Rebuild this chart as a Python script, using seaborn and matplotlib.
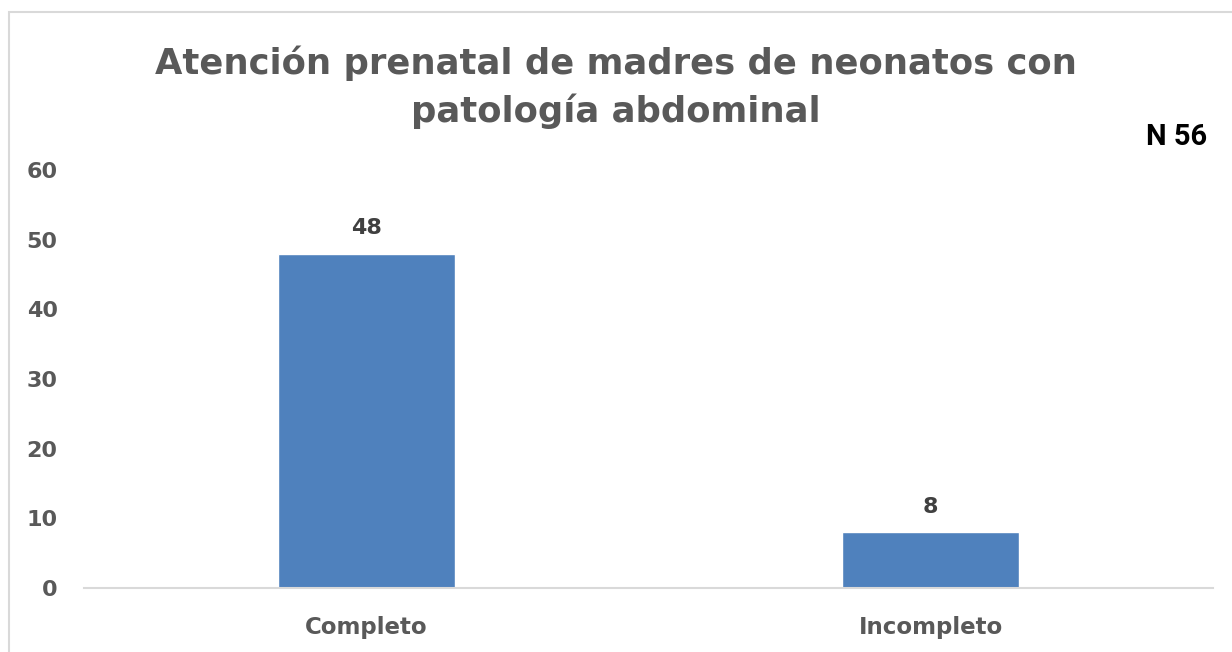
import seaborn as sns
import matplotlib.pyplot as plt
import pandas as pd
from matplotlib.patches import Rectangle

# data
categorias = ['Completo', 'Incompleto']
madres = [48, 8]
titulo = 'Atención prenatal de madres de neonatos con\npatología abdominal'
total_txt = 'N 56'

df = pd.DataFrame({'categoria': categorias, 'madres': madres})

sns.set_theme(style='white')
plt.rcParams['font.family'] = ['DejaVu Sans']

gris = '#595959'
fig = plt.figure(figsize=(12.32, 6.52), dpi=100)
ax = fig.add_axes([0.0682, 0.0982, 0.9164, 0.6411])

sns.barplot(data=df, x='categoria', y='madres', color='#4F81BD', saturation=1,
            width=0.314, ax=ax)

ax.set_ylim(0, 60)
ax.set_yticks(range(0, 61, 10))
ax.set_xlim(-0.5, 1.5)
ax.set_xlabel('')
ax.set_ylabel('')
for s in ['top', 'right', 'left']:
    ax.spines[s].set_visible(False)
ax.spines['bottom'].set_color('#D9D9D9')
ax.spines['bottom'].set_linewidth(1.5)
ax.tick_params(axis='y', length=0, pad=19, labelsize=16, labelcolor=gris)
ax.tick_params(axis='x', length=0, pad=20, labelsize=16.5, labelcolor=gris)
for lab in ax.get_xticklabels() + ax.get_yticklabels():
    lab.set_fontweight('bold')

for i, v in enumerate(madres):
    ax.annotate(str(v), (i, v), xytext=(0, 11), textcoords='offset points',
                ha='center', va='bottom', fontsize=16, fontweight='bold',
                color='#404040')

fig.text(0.5, 0.866, titulo, ha='center', va='center', fontsize=25.5,
         fontweight='bold', color=gris, linespacing=1.42)
fig.text(0.955, 0.79, total_txt, ha='center', va='center', fontsize=21,
         fontweight='bold', color='black', family=['Roboto'])

fig.patches.append(Rectangle((9 / 1232, -0.1), 1.2, 1 - 12 / 652 + 0.1,
                             transform=fig.transFigure, fill=False,
                             edgecolor='#D9D9D9', linewidth=1.5))

fig.savefig('out.png', dpi=100)
